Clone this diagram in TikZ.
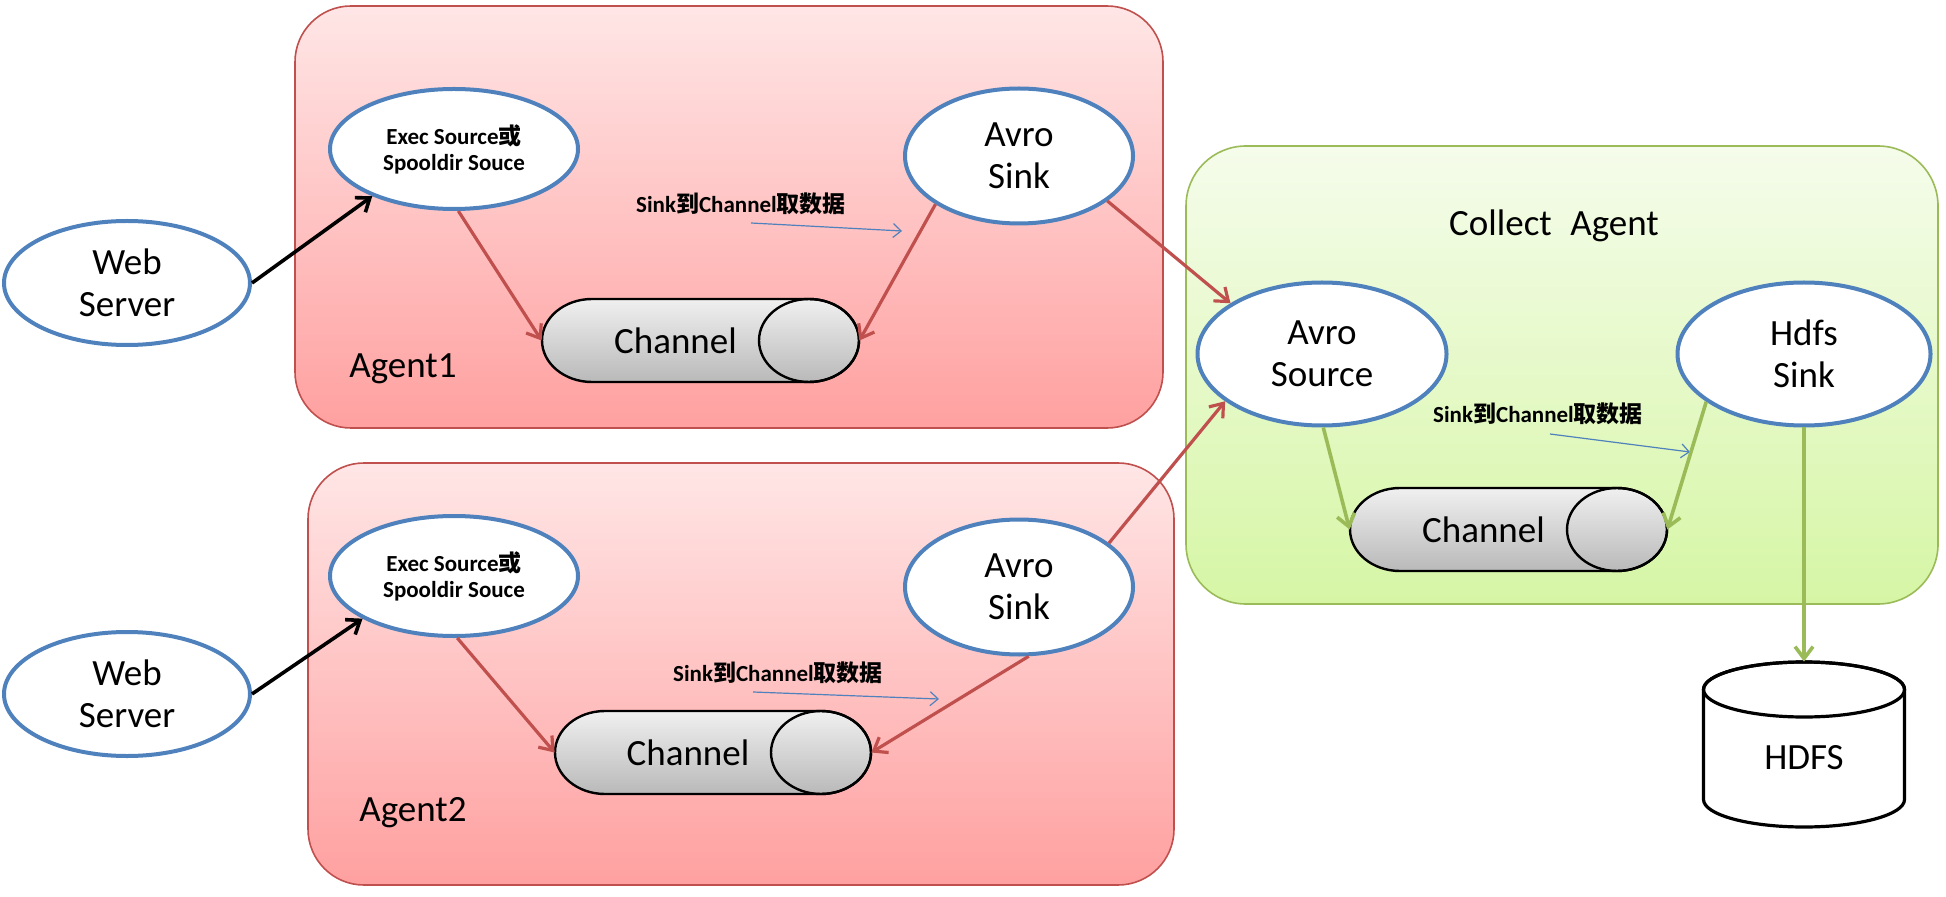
\documentclass[tikz,border=0pt]{standalone}
\usepackage{fontspec}
\setmainfont{Carlito}
\newfontfamily\cjk{Noto Sans CJK SC}
\usetikzlibrary{arrows.meta,shapes.geometric}
\definecolor{myred}{RGB}{192,80,77}
\definecolor{mygreen}{RGB}{155,187,89}
\definecolor{myblue}{RGB}{79,129,189}
\definecolor{pinkTop}{RGB}{255,230,230}
\definecolor{pinkBot}{RGB}{255,160,160}
\definecolor{grTop}{RGB}{245,252,235}
\definecolor{grBot}{RGB}{214,246,165}
\definecolor{chTop}{RGB}{240,240,240}
\definecolor{chBot}{RGB}{185,185,185}
\newcommand\bigfont{\fontsize{18.5}{21}\selectfont}
\newcommand\smallbold{\fontsize{11.5}{13}\selectfont\bfseries}
\newcommand\mychannel[4]{%
 \shadedraw[top color=chTop,bottom color=chBot,line width=1.2pt]
   ({#2+50},{#4+41.5}) -- ({#3-50},{#4+41.5})
   arc[start angle=90,end angle=-90,x radius=50,y radius=41.5]
   -- ({#2+50},{#4-41.5})
   arc[start angle=270,end angle=90,x radius=50,y radius=41.5] -- cycle;
 \draw[line width=1.2pt] ({#3-50},#4) ellipse[x radius=50,y radius=41.5];
 \node[inner sep=0pt,minimum width={(#3-#2)/2},minimum height=41.5pt] (#1) at ({(#2+#3)/2},#4) {};
 \node[font=\bigfont] (#1t) at ({(#2+#3-50)/2},#4) {Channel};
}
\begin{document}
\begin{tikzpicture}[x=0.5pt,y=0.5pt,
  agentbox/.style={draw=myred,line width=0.8pt,rounded corners=28pt,top color=pinkTop,bottom color=pinkBot,inner sep=0pt},
  collectbox/.style={draw=mygreen,line width=0.8pt,rounded corners=30pt,top color=grTop,bottom color=grBot,inner sep=0pt},
  ell/.style={ellipse,draw=myblue,line width=2pt,fill=white,inner sep=0pt,align=center},
  redarr/.style={draw=myred,line width=1.6pt,-{Straight Barb[length=6pt,width=9pt,line width=1.6pt]}},
  blackarr/.style={draw=black,line width=1.8pt,-{Straight Barb[length=6pt,width=9pt,line width=1.8pt]}},
  greenarr/.style={draw=mygreen,line width=1.8pt,-{Straight Barb[length=6pt,width=9pt,line width=1.8pt]}},
  bluearr/.style={draw=myblue,line width=0.6pt,-{Straight Barb[length=4pt,width=7pt]}},
  lbl/.style={font=\bigfont,inner sep=0pt},
  slbl/.style={font=\smallbold,inner sep=0pt}]
\useasboundingbox (0,0) rectangle (1946,-897);

% containers
\node[agentbox,minimum width=434pt,minimum height=211pt] (ag1) at (729,-217) {};
\node[agentbox,minimum width=433pt,minimum height=211pt] (ag2) at (741,-674) {};
\node[collectbox,minimum width=376pt,minimum height=229pt] (col) at (1562,-375) {};

% labels of containers
\node[lbl] (ag1l) at (403,-369) {Agent1};
\node[lbl] (ag2l) at (413,-813) {Agent2};
\node[lbl] (coll) at (1554,-226) {Collect\hspace{0.5em}Agent};

% web servers
\node[ell,minimum width=123pt,minimum height=62pt,font=\bigfont] (web1) at (127,-283) {Web\\Server};
\node[ell,minimum width=123pt,minimum height=62pt,font=\bigfont] (web2) at (127,-694) {Web\\Server};

% agent1
\node[ell,minimum width=124pt,minimum height=60pt,font=\smallbold] (ex1) at (454,-149) {Exec Source{\cjk 或}\\Spooldir Souce};
\node[ell,minimum width=114pt,minimum height=67.5pt,font=\bigfont] (as1) at (1019,-156) {Avro\\Sink};
\mychannel{ch1}{542}{859}{-340.5}

% agent2
\node[ell,minimum width=124pt,minimum height=60pt,font=\smallbold] (ex2) at (454,-576) {Exec Source{\cjk 或}\\Spooldir Souce};
\node[ell,minimum width=114pt,minimum height=67.5pt,font=\bigfont] (as2) at (1019,-587) {Avro\\Sink};
\mychannel{ch2}{555}{871}{-752.5}

% collect agent
\node[ell,minimum width=124.5pt,minimum height=71.5pt,font=\bigfont] (src) at (1322,-354) {Avro\\Source};
\node[ell,minimum width=126.5pt,minimum height=71.5pt,font=\bigfont] (hs) at (1804,-354) {Hdfs\\Sink};
\mychannel{ch3}{1350}{1667}{-529.5}

% HDFS cylinder
\filldraw[fill=white,draw=black,line width=1.6pt]
  (1703.5,-689.5) -- (1703.5,-799.5)
  arc[start angle=180,end angle=360,x radius=100.5,y radius=27.5]
  -- (1904.5,-689.5)
  arc[start angle=0,end angle=180,x radius=100.5,y radius=27.5] -- cycle;
\draw[line width=1.6pt] (1804,-689.5) ellipse[x radius=100.5,y radius=27.5];
\node[inner sep=0pt,minimum width=100.5pt,minimum height=82.5pt] (hdfs) at (1804,-744.5) {};
\node[lbl] (hdfst) at (1804,-758) {HDFS};

% small labels with blue arrows
\node[slbl] (l1) at (741,-204) {Sink{\cjk 到}Channel{\cjk 取数据}};
\coordinate (b1s) at (751,-223);
\coordinate (b1e) at (902,-231);
\draw[bluearr] (b1s) -- (b1e);
\node[slbl] (l2) at (778,-673) {Sink{\cjk 到}Channel{\cjk 取数据}};
\coordinate (b2s) at (753,-692);
\coordinate (b2e) at (939,-699);
\draw[bluearr] (b2s) -- (b2e);
\node[slbl] (l3) at (1538,-414) {Sink{\cjk 到}Channel{\cjk 取数据}};
\coordinate (b3s) at (1550,-434);
\coordinate (b3e) at (1690,-452);
\draw[bluearr] (b3s) -- (b3e);

% black arrows
\draw[blackarr] (web1.east) -- (ex1.-150);
\draw[blackarr] (web2.east) -- (ex2.-155);

% red arrows
\draw[redarr] (ex1.-86) -- (ch1.west);
\draw[redarr] (as1.-150) -- (ch1.east);
\draw[redarr] (as1.-27) -- (src.151);
\draw[redarr] (as2.26) -- (src.-154);
\draw[redarr] (ex2.-87) -- (ch2.west);
\draw[redarr] (as2.-82) -- (ch2.east);

% green arrows
\draw[greenarr] (src.-89) -- (ch3.west);
\draw[greenarr] (hs.-154) -- (ch3.east);
\draw[greenarr] (hs.south) -- (hdfs.north);
\end{tikzpicture}
\end{document}
